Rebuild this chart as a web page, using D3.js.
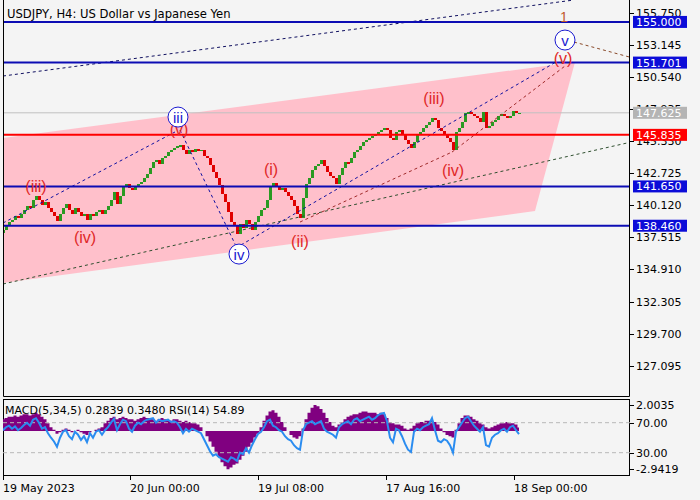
<!DOCTYPE html>
<html>
<head>
<meta charset="utf-8">
<script src="https://cdn.jsdelivr.net/npm/d3@7"></script>
<style>
body { margin: 0; background: #f4f4f4; }
svg { display: block; font-family: "DejaVu Sans", sans-serif; }
</style>
</head>
<body>
<svg width="700" height="500"></svg>
<script>
// USDJPY H4, one value for every 3 bars
const firstOpen = 137.85;
const closes = [
138.11,138.44,138.76,138.92,139.25,139.09,139.41,139.73,140.06,139.90,
140.55,140.87,140.55,140.14,140.39,139.90,139.57,139.25,138.84,139.41,
139.90,140.22,139.73,139.41,139.90,139.57,139.25,139.41,138.92,139.41,
139.25,139.57,139.73,139.41,139.73,140.06,140.55,141.20,140.22,140.87,
141.68,141.85,141.52,141.36,141.68,141.85,142.01,142.33,142.66,143.14,
143.63,143.79,143.47,143.96,144.12,144.44,144.61,144.77,144.93,145.01,
144.61,144.28,144.61,144.44,144.69,144.52,144.61,144.12,143.96,143.39,
142.82,142.33,141.76,141.03,140.38,139.57,138.76,138.44,137.79,138.60,
138.27,138.92,138.60,138.11,138.76,139.25,139.73,139.90,140.55,141.68,
141.93,141.68,141.36,141.52,141.20,140.87,140.55,140.06,139.41,139.09,
140.71,141.85,142.33,142.98,143.31,143.47,143.79,143.31,142.82,142.50,
142.33,141.85,142.58,143.14,143.63,143.55,143.96,144.44,144.61,144.93,
145.26,145.42,145.58,145.74,145.90,146.07,146.23,146.39,146.23,145.58,
145.42,146.07,146.23,145.90,145.42,145.09,144.77,145.26,145.90,146.07,
146.39,146.64,146.88,147.20,147.04,146.39,146.15,145.90,145.58,145.26,
144.61,146.07,146.39,146.88,147.61,147.69,147.53,147.37,147.20,146.88,
147.69,146.39,146.55,146.88,147.04,147.37,147.53,147.37,147.20,147.37,
147.77,147.61,147.62
];

const macdHist = [
0.9,1.0,1.1,1.1,1.2,1.1,1.2,1.3,1.3,1.2,1.3,1.4,1.3,1.1,0.9,
0.6,0.3,0.1,-0.2,-0.1,
0.1,0.2,0.1,-0.1,0.0,0.1,-0.1,-0.2,-0.3,-0.1,0.0,0.1,0.2,
0.3,0.6,0.8,
1.0,1.1,0.9,1.0,1.1,1.0,0.9,0.9,0.8,0.9,1.0,1.1,1.0,
1.0,0.9,0.8,0.9,1.0,0.9,0.8,0.8,0.9,0.9,0.8,0.7,0.8,0.7,0.6,0.6,0.5,
0.3,0.0,-0.4,-0.8,
-1.2,-1.6,-2.0,-2.4,-2.7,-2.94,-2.8,-2.6,-2.5,-2.2,
-1.9,-1.6,-1.2,-0.9,-0.5,-0.2,
0.3,0.8,1.2,1.5,1.6,1.4,1.1,0.7,0.3,
0.0,-0.3,-0.5,-0.6,-0.4,
0.2,0.9,1.4,1.8,2.0,1.9,1.7,1.4,1.0,0.7,
0.4,0.3,0.5,0.7,0.9,
1.1,1.2,1.3,1.3,1.4,1.5,1.5,1.4,1.4,1.4,1.3,1.4,1.3,
1.0,0.7,0.6,0.5,0.5,0.4,0.2,0.1,
0.2,0.4,0.6,0.7,0.7,0.8,0.8,0.8,0.7,0.5,
0.2,-0.1,-0.3,-0.4,-0.5,
0.1,0.6,1.0,1.2,1.2,1.1,
0.9,0.8,0.6,0.5,0.3,0.2,
0.3,0.4,0.5,0.6,0.6,0.7,0.6,0.6,0.5,0.28
];

const rsi = [
60,64,66,62,65,60,63,67,70,66,74,76,70,62,64,
56,50,45,38,50,
58,60,52,48,58,54,47,52,44,56,50,58,60,
54,60,64,
70,75,60,68,74,72,62,58,66,70,68,72,74,
75,76,70,74,72,73,74,71,72,70,64,56,62,58,62,60,58,
56,48,40,32,
26,28,24,22,20,18,24,22,19,30,
28,36,30,40,48,55,
58,64,72,74,66,64,60,58,52,
48,46,40,36,34,
60,68,70,72,68,70,72,62,58,56,
54,50,64,68,70,
72,68,74,76,72,74,76,78,74,76,80,82,83,
72,50,44,62,60,52,42,34,
31,58,62,60,64,66,68,76,60,46,
44,48,46,40,30,
58,64,70,76,78,72,
66,62,58,64,40,38,
50,54,56,60,62,58,64,66,60,54.89
];

const priceTicks = [155.750, 153.145, 150.540, 147.935, 145.330, 142.725, 140.120, 137.515, 134.910, 132.305, 129.700, 127.095];
const blueLevels = [155.000, 151.701, 141.650, 138.460];
const redLevel = 145.835;
const lastPrice = 147.625;

const dateAt = [0, 42.33, 85, 127.67, 170.33];
const dateLabels = ["19 May 2023", "20 Jun 00:00", "19 Jul 08:00", "17 Aug 16:00", "18 Sep 00:00"];

const subTicks = [2.0035, 70, 30, -2.9419];
const subLabels = ["2.0035", "70.00", "30.00", "-2.9419"];

// objects drawn on the chart, as [bar, price]
const pinkZone = [[0, 145.58], [190.67, 151.75], [177.33, 139.65], [0, 133.81]];
const trendLines = [
  [[0, 150.61], [190, 156.77]],
  [[0, 133.73], [208.67, 145.21]],
  [[0, 138.68], [57.33, 146.07]],
  [[59, 146.23], [77.67, 136.81]],
  [[79.33, 136.90], [184.33, 151.75]],
  [[99, 138.76], [149.67, 144.44]],
  [[149.67, 144.44], [187.33, 151.42]],
  [[190.33, 153.37], [208.67, 152.16]]
];
const trendColors = ["#101060", "#2f4f2f", "#1010a0", "#1010a0", "#1010a0", "#a02a2a", "#a02a2a", "#8a4a2a"];

const waveText = ["(iii)", "(iv)", "(v)", "(i)", "(ii)", "(iii)", "(iv)", "(v)", "1"];
const waveAt = [[11, 141.68], [27.33, 137.54], [58.67, 146.23], [89.33, 143.06], [99, 137.22], [143.67, 148.75], [150, 142.98], [186.67, 152.07], [187, 155.40]];
const circleText = ["iii", "iv", "v"];
const circleAt = [[58.33, 147.28], [78.67, 136.16], [187.33, 153.53]];

const svg = d3.select("svg");
const x = d3.scaleLinear().domain([0, 209]).range([3, 630]);
const y = d3.scaleLinear().domain([124.56, 156.78]).range([397, 0]);
const yMacd = d3.scaleLinear().domain([-2.9419, 2.0035]).range([469.3, 405]);
const yRsi = d3.scaleLinear().domain([0, 100]).range([475.2, 400.2]);

svg.append("rect").attr("width", 700).attr("height", 500).attr("fill", "#f4f4f4");

const defs = svg.append("defs");
defs.append("clipPath").attr("id", "mainClip")
  .append("rect").attr("x", 3).attr("y", 0).attr("width", 627).attr("height", 397);
defs.append("clipPath").attr("id", "subClip")
  .append("rect").attr("x", 3).attr("y", 400).attr("width", 627).attr("height", 76);

const main = svg.append("g").attr("clip-path", "url(#mainClip)");

main.append("polygon")
  .attr("points", pinkZone.map(d => x(d[0]) + "," + y(d[1])).join(" "))
  .attr("fill", "#ffc0cb");

main.append("line")
  .attr("x1", 3).attr("x2", 630)
  .attr("y1", y(lastPrice)).attr("y2", y(lastPrice))
  .attr("stroke", "#c0c0c0").attr("stroke-width", 1);

const candles = closes.map((c, i) => ({ i: i, o: i ? closes[i - 1] : firstOpen, c: c }));
main.append("g")
  .attr("shape-rendering", "crispEdges")
  .selectAll("rect")
  .data(candles).enter()
  .append("rect")
  .attr("x", d => x(d.i) - 1.5)
  .attr("width", 3)
  .attr("y", d => y(Math.max(d.o, d.c)))
  .attr("height", d => Math.max(1.5, Math.abs(y(d.o) - y(d.c))))
  .attr("fill", d => d.c >= d.o ? "#2a9a22" : "#e00000");

main.append("g").selectAll("line")
  .data(trendLines).enter()
  .append("line")
  .attr("x1", d => x(d[0][0])).attr("y1", d => y(d[0][1]))
  .attr("x2", d => x(d[1][0])).attr("y2", d => y(d[1][1]))
  .attr("stroke", (d, i) => trendColors[i])
  .attr("stroke-width", 1)
  .attr("stroke-dasharray", "3,3");

main.append("g").selectAll("line")
  .data(blueLevels.concat([redLevel])).enter()
  .append("line")
  .attr("x1", 3).attr("x2", 630)
  .attr("y1", d => y(d)).attr("y2", d => y(d))
  .attr("stroke", d => d === redLevel ? "#ff0000" : "#0c0cb4")
  .attr("stroke-width", 2);

main.append("g").selectAll("text")
  .data(waveText).enter()
  .append("text")
  .attr("x", (d, i) => x(waveAt[i][0]))
  .attr("y", (d, i) => y(waveAt[i][1]))
  .attr("text-anchor", "middle")
  .attr("dominant-baseline", "central")
  .attr("font-family", "Liberation Sans, Arial, sans-serif")
  .attr("font-size", d => d === "1" ? 14 : 16)
  .attr("fill", d => d === "1" ? "#c0582a" : "#e02828")
  .text(d => d);

const circles = main.append("g").selectAll("g")
  .data(circleText).enter()
  .append("g")
  .attr("transform", (d, i) => "translate(" + x(circleAt[i][0]) + "," + y(circleAt[i][1]) + ")");
circles.append("circle")
  .attr("r", 10)
  .attr("fill", "#ffffff")
  .attr("stroke", "#1a1ad0");
circles.append("text")
  .attr("text-anchor", "middle")
  .attr("dominant-baseline", "central")
  .attr("font-family", "Liberation Sans, Arial, sans-serif")
  .attr("font-size", 15)
  .attr("fill", "#1a1ad0")
  .text(d => d);

// frames
svg.append("path")
  .attr("d", "M3.5,0V396.5H629.5V0")
  .attr("fill", "none").attr("stroke", "#000");
svg.append("rect")
  .attr("x", 3.5).attr("y", 399.5).attr("width", 626).attr("height", 76)
  .attr("fill", "none").attr("stroke", "#000");

// price axis
const axisG = svg.append("g");
axisG.selectAll("line")
  .data(priceTicks).enter()
  .append("line")
  .attr("x1", 630).attr("x2", 634)
  .attr("y1", d => Math.round(y(d)) + 0.5).attr("y2", d => Math.round(y(d)) + 0.5)
  .attr("stroke", "#000");
axisG.selectAll("text")
  .data(priceTicks).enter()
  .append("text")
  .attr("x", 636)
  .attr("y", d => y(d) + 4)
  .attr("font-size", 11)
  .attr("fill", "#000")
  .text(d => d.toFixed(3));

const boxes = [{ v: lastPrice, c: "#b4b4b4" }, { v: redLevel, c: "#ff0000" }]
  .concat(blueLevels.map(v => ({ v: v, c: "#0c0cd8" })));
const boxG = svg.append("g").selectAll("g")
  .data(boxes).enter()
  .append("g");
boxG.append("rect")
  .attr("x", 633).attr("width", 54)
  .attr("y", d => y(d.v) - 6).attr("height", 12)
  .attr("fill", d => d.c);
boxG.append("text")
  .attr("x", 636)
  .attr("y", d => y(d.v) + 4)
  .attr("font-size", 11)
  .attr("fill", "#fff")
  .text(d => d.v.toFixed(3));

svg.append("text")
  .attr("x", 7).attr("y", 18)
  .attr("font-size", 11.6)
  .text("USDJPY, H4:  US Dollar vs Japanese Yen");

// indicator window
const sub = svg.append("g").attr("clip-path", "url(#subClip)");
sub.append("path")
  .datum(macdHist)
  .attr("d", d3.area()
    .x((d, i) => x(i))
    .y0(yMacd(0))
    .y1(d => yMacd(d))
    .curve(d3.curveStep))
  .attr("fill", "#800080");
sub.append("g").selectAll("line")
  .data([70, 30]).enter()
  .append("line")
  .attr("x1", 3).attr("x2", 630)
  .attr("y1", d => yRsi(d)).attr("y2", d => yRsi(d))
  .attr("stroke", "#b8b8b8")
  .attr("stroke-dasharray", "4,3");
sub.append("path")
  .datum(rsi)
  .attr("d", d3.line().x((d, i) => x(i)).y(d => yRsi(d)))
  .attr("fill", "none")
  .attr("stroke", "#2a8cf0")
  .attr("stroke-width", 2);

svg.append("text")
  .attr("x", 5).attr("y", 414)
  .attr("font-size", 11)
  .text("MACD(5,34,5) 0.2839 0.3480 RSI(14) 54.89");

const subY = (d, i) => i === 1 || i === 2 ? yRsi(d) : yMacd(d);
const subAxis = svg.append("g");
subAxis.selectAll("line")
  .data(subTicks).enter()
  .append("line")
  .attr("x1", 630).attr("x2", 634)
  .attr("y1", (d, i) => Math.round(subY(d, i)) + 0.5).attr("y2", (d, i) => Math.round(subY(d, i)) + 0.5)
  .attr("stroke", "#000");
subAxis.selectAll("text")
  .data(subLabels).enter()
  .append("text")
  .attr("x", 636)
  .attr("y", (d, i) => subY(subTicks[i], i) + 4)
  .attr("font-size", 11)
  .text(d => d);

// time axis
const timeG = svg.append("g");
timeG.selectAll("line")
  .data(dateAt).enter()
  .append("line")
  .attr("x1", d => Math.round(x(d)) + 0.5).attr("x2", d => Math.round(x(d)) + 0.5)
  .attr("y1", 476).attr("y2", 480)
  .attr("stroke", "#000");
timeG.selectAll("text")
  .data(dateLabels).enter()
  .append("text")
  .attr("x", (d, i) => x(dateAt[i]))
  .attr("y", 492)
  .attr("font-size", 11)
  .text(d => d);
</script>
</body>
</html>
